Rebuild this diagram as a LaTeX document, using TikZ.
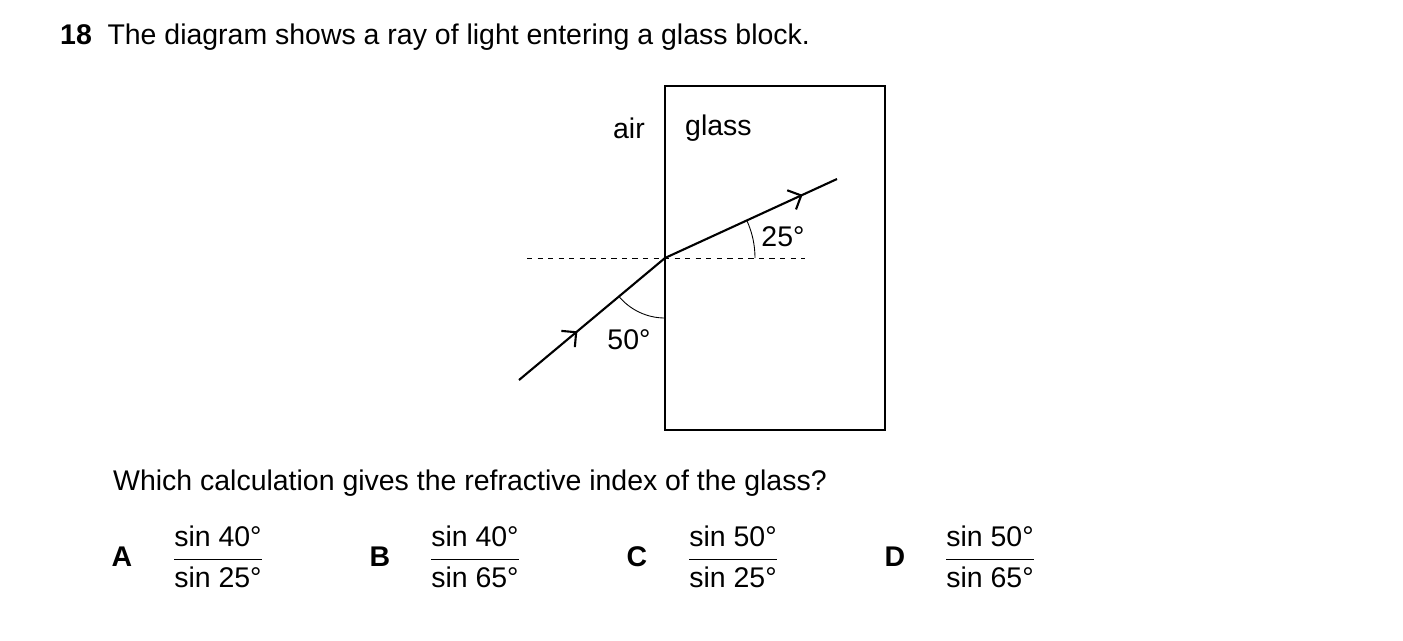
\documentclass[tikz,border=0pt]{standalone}
\usepackage{fontspec}
\setmainfont{Liberation Sans}
\usetikzlibrary{decorations.markings,arrows.meta}

\begin{document}
\begin{tikzpicture}[%
      x=0.02cm, y=-0.02cm,
      font=\fontsize{16.2}{19}\selectfont,
      ray/.style={line width=1.2pt, postaction={decorate},
        decoration={markings, mark=at position #1 with {\arrow{Straight Barb[length=6pt,width=12pt]}}}},
      ]
      \useasboundingbox (0,0) rectangle (1403,640);

      % block and normal
      \draw [line width=1pt] (665,86) rectangle (885,430);
      \coordinate (p) at (665,258);
      \coordinate (s) at (519,380);
      \coordinate (e) at (837,179);
      \draw [dashed, line width=0.5pt] (527,258) -- (805,258);

      \draw [ray=0.4] (s) -- (p);
      \draw [ray=0.8] (p) -- (e);

      \draw [line width=0.5pt] ([shift={(140:60)}]p) arc [start angle=140, end angle=90, radius=60];
      \draw [line width=0.5pt] ([shift={(0:90)}]p) arc [start angle=0, end angle=-25, radius=90];

      \node (n50) at (629,340) {50°};
      \node (n25) at (783,237) {25°};
      \node [anchor=east] (air) at (651,128) {air};
      \node [anchor=west] (glass) at (679,128) {glass};

      % texts
      \node [anchor=west] (q) at (54,37) {\textbf{18}\hspace{0.55em}The diagram shows a ray of light entering a glass block.};
      \node [anchor=west] (ask) at (107,483) {Which calculation gives the refractive index of the glass?};

      \node (la) at (122,557) {\textbf{A}};
      \node (fa) at (218,557) {$\displaystyle\frac{\mbox{sin 40°}}{\mbox{sin 25°}}$};
      \node (lb) at (380,557) {\textbf{B}};
      \node (fb) at (475,557) {$\displaystyle\frac{\mbox{sin 40°}}{\mbox{sin 65°}}$};
      \node (lc) at (637,557) {\textbf{C}};
      \node (fc) at (733,557) {$\displaystyle\frac{\mbox{sin 50°}}{\mbox{sin 25°}}$};
      \node (ld) at (895,557) {\textbf{D}};
      \node (fd) at (990,557) {$\displaystyle\frac{\mbox{sin 50°}}{\mbox{sin 65°}}$};
\end{tikzpicture}
\end{document}
